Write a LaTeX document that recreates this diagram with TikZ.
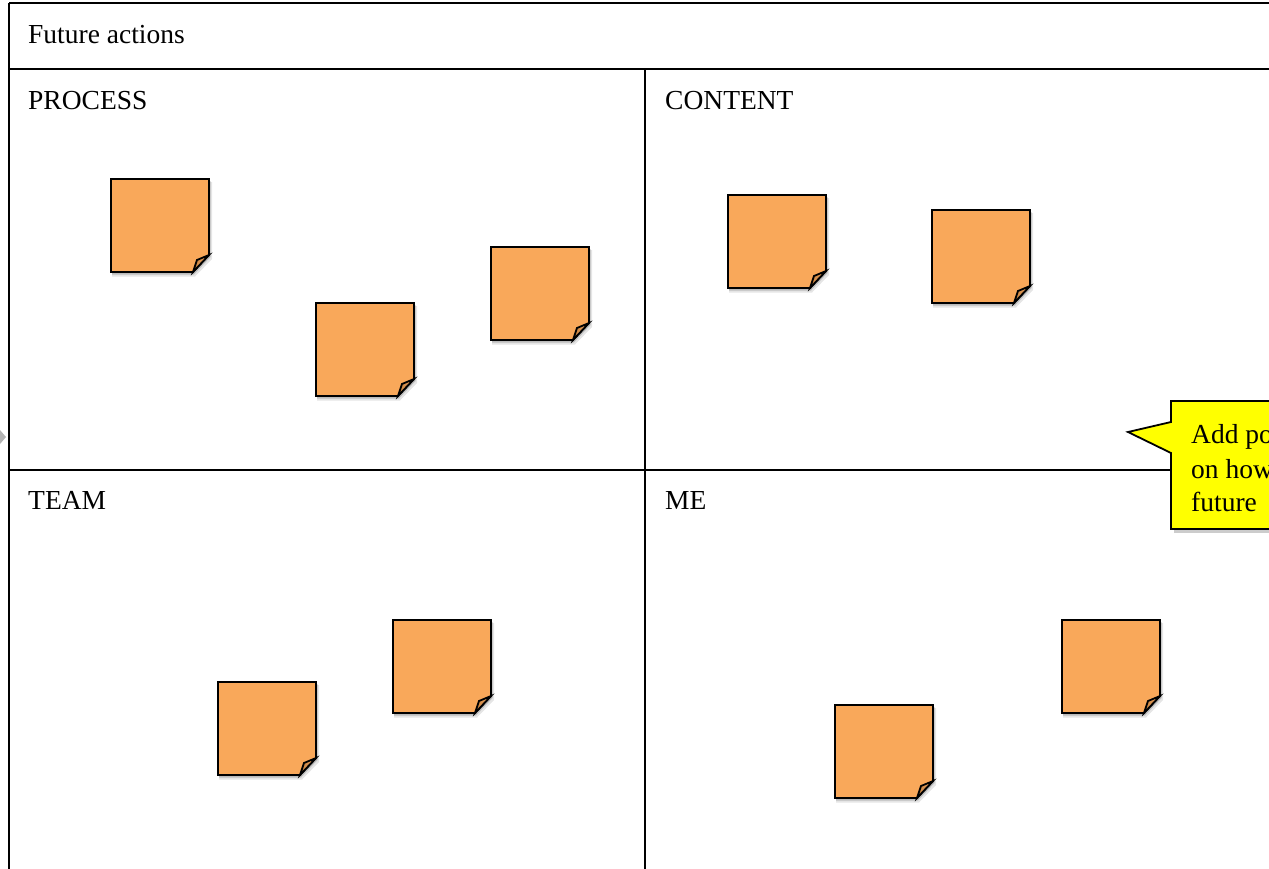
\documentclass[tikz,border=0pt]{standalone}
\usepackage{fontspec}
\setmainfont{Liberation Serif}
\definecolor{noteorange}{HTML}{F9A85A}
\definecolor{notefold}{HTML}{E8A062}
\definecolor{notefolddark}{HTML}{C98540}
\definecolor{calloutyellow}{HTML}{FFFF00}
\newcommand{\stickynote}[2]{%
  \fill[black,opacity=0.10] (#1+1,#2+3) -- (#1+101,#2+3) -- (#1+101,#2+80) -- (#1+84,#2+97.5) -- (#1+1,#2+97.5) -- cycle;
  \fill[black,opacity=0.18] (#1+1,#2+2) -- (#1+99.5,#2+2) -- (#1+99.5,#2+78) -- (#1+83,#2+95.5) -- (#1+1,#2+95.5) -- cycle;
  \draw[notebox] (#1,#2) -- (#1+98,#2) -- (#1+98,#2+76) -- (#1+82,#2+93) -- (#1,#2+93) -- cycle;
  \draw[notebox,left color=notefolddark,right color=notefold] (#1+82,#2+93) -- (#1+86,#2+81) -- (#1+98,#2+76) -- cycle;
}
\tikzset{
  frame/.style={line width=2.4pt,black},
  notebox/.style={line width=1.8pt,black,fill=noteorange,line join=miter},
  label/.style={font=\fontsize{27.5}{34}\selectfont,anchor=base west,inner sep=0pt},
}
\begin{document}
\begin{tikzpicture}[x=1pt,y=-1pt]
\useasboundingbox (0,0) rectangle (1269,868);
\clip (0,0) rectangle (1269,868);
\fill[white] (0,0) rectangle (1269,868);
% frame
\draw[frame] (9,3) -- (1280,3);
\draw[frame] (9,3) -- (9,880);
\draw[frame] (9,69) -- (1280,69);
\draw[frame] (9,470) -- (1280,470);
\draw[frame] (645,69) -- (645,880);
% small grey marker at left
\fill[gray!60] (0,430) -- (6,437) -- (0,444) -- cycle;
% labels
\node[label] (title) at (28,43) {Future actions};
\node[label] (process) at (28,109) {PROCESS};
\node[label] (content) at (665,109) {CONTENT};
\node[label] (team) at (28,509) {TEAM};
\node[label] (me) at (665,509) {ME};
% sticky notes
\stickynote{111}{179}
\stickynote{316}{303}
\stickynote{491}{247}
\stickynote{728}{195}
\stickynote{932}{210}
\stickynote{393}{620}
\stickynote{218}{682}
\stickynote{1062}{620}
\stickynote{835}{705}
% callout
\fill[black,opacity=0.2] (1174,405) -- (1300,405) -- (1300,533) -- (1174,533) -- cycle;
\draw[line width=1.8pt,fill=calloutyellow,line join=miter] (1171,401) -- (1300,401) -- (1300,529) -- (1171,529) -- (1171,453) -- (1128,432) -- (1171,422) -- cycle;
\node[label] (c1) at (1191,443) {Add po};
\node[label] (c2) at (1191,478) {on how};
\node[label] (c3) at (1191,511) {future};
\end{tikzpicture}
\end{document}
